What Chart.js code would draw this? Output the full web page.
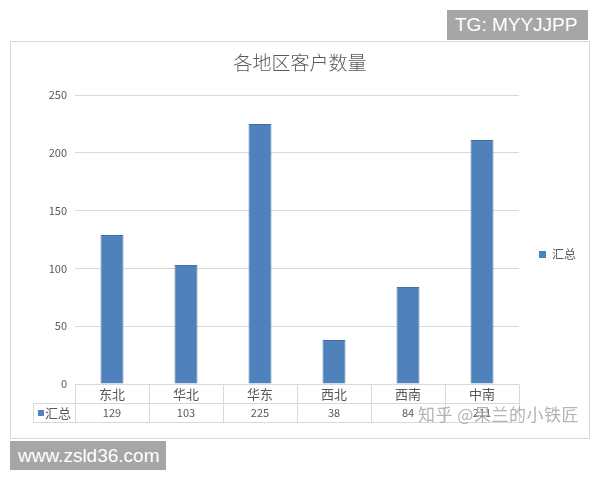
<!DOCTYPE html>
<html>
<head>
<meta charset="utf-8">
<script src="https://cdn.jsdelivr.net/npm/chart.js@4.4.1/dist/chart.umd.min.js"></script>
<style>
  body { margin: 0; width: 600px; height: 480px; background: #fff; position: relative; overflow: hidden; }
  #frame { position: absolute; left: 10px; top: 41px; width: 578px; height: 396px; border: 1px solid #d9d9d9; }
  #chart { position: absolute; left: 0; top: 0; }
  .tag { position: absolute; box-sizing: border-box; white-space: nowrap; background: #a6a6a6; color: #fff; font-family: "Liberation Sans", Arial, sans-serif; font-size: 19px; line-height: 30px; padding: 0 0 0 8px; }
  #tg { left: 447px; top: 10px; width: 141px; height: 30px; }
  #site { left: 10px; top: 441px; width: 156px; height: 29px; line-height: 29px; }
  #zhihu { position: absolute; left: 418px; top: 401px; font-family: "Noto Sans CJK SC", sans-serif; font-size: 17px; color: rgba(160,160,160,0.8); letter-spacing: 0.5px; }
</style>
</head>
<body>
<div id="frame"></div>
<canvas id="chart" width="600" height="480"></canvas>
<div id="zhihu">知乎 @呆兰的小铁匠</div>
<div class="tag" id="tg">TG: MYYJJPP</div>
<div class="tag" id="site">www.zsld36.com</div>
<script>
// chart data
const regions = ['东北', '华北', '华东', '西北', '西南', '中南'];
const totals = [129, 103, 225, 38, 84, 211];
const yTicks = [0, 50, 100, 150, 200, 250];
const seriesName = '汇总';
const chartTitle = '各地区客户数量';

const FONT = '"Noto Sans CJK SC", "Microsoft YaHei", sans-serif';
const BAR = '#4f81bd';
const TEXT = '#595959';
const LINE = '#d9d9d9';

// title, data table under the plot, legend on the right
const dataTable = {
  id: 'dataTable',
  afterDraw(chart) {
    const { ctx, chartArea: area, scales: { x } } = chart;
    const colW = (area.right - area.left) / regions.length;
    const top = Math.round(area.bottom) + 0.5;
    const mid = top + 19;
    const bot = mid + 19;
    const left = 33.5;

    ctx.save();
    // title centred on the whole frame
    ctx.fillStyle = TEXT;
    ctx.textAlign = 'center';
    ctx.textBaseline = 'middle';
    ctx.font = '300 19px ' + FONT;
    ctx.fillText(chartTitle, 300, 63);

    ctx.strokeStyle = LINE;
    ctx.lineWidth = 1;
    ctx.beginPath();
    ctx.moveTo(area.left, top); ctx.lineTo(area.right, top);
    ctx.moveTo(left, mid); ctx.lineTo(area.right, mid);
    ctx.moveTo(left, bot); ctx.lineTo(area.right, bot);
    ctx.moveTo(left, mid); ctx.lineTo(left, bot);
    for (let i = 0; i <= regions.length; i++) {
      const bx = Math.round(x.getPixelForValue(0) - colW / 2 + i * colW) + 0.5;
      ctx.moveTo(bx, top); ctx.lineTo(bx, bot);
    }
    ctx.stroke();

    regions.forEach((r, i) => {
      const cx = x.getPixelForValue(i);
      ctx.font = '13px ' + FONT;
      ctx.fillText(r, cx, (top + mid) / 2);
      ctx.font = '11px ' + FONT;
      ctx.fillText(String(totals[i]), cx, (mid + bot) / 2);
    });

    // series key in the table
    ctx.fillStyle = BAR;
    ctx.fillRect(38, (mid + bot) / 2 - 3, 6, 6);
    ctx.fillStyle = TEXT;
    ctx.textAlign = 'left';
    ctx.font = '13px ' + FONT;
    ctx.fillText(seriesName, 45, (mid + bot) / 2);

    // legend
    ctx.fillStyle = BAR;
    ctx.fillRect(539, 251, 7, 7);
    ctx.fillStyle = TEXT;
    ctx.font = '12px ' + FONT;
    ctx.fillText(seriesName, 552, 254);
    ctx.restore();
  }
};

new Chart(document.getElementById('chart').getContext('2d'), {
  type: 'bar',
  data: {
    labels: regions,
    datasets: [{
      label: seriesName,
      data: totals,
      backgroundColor: BAR,
      borderColor: '#41719c',
      borderWidth: 1,
      barPercentage: 0.31,
      categoryPercentage: 1
    }]
  },
  options: {
    responsive: false,
    animation: false,
    layout: { padding: { left: 35, right: 81, top: 95, bottom: 96 } },
    plugins: {
      legend: { display: false },
      tooltip: { enabled: false },
      title: { display: false }
    },
    scales: {
      x: { display: false },
      y: {
        min: 0,
        max: 250,
        afterFit(scale) { scale.width = 40; },
        afterBuildTicks(scale) { scale.ticks = yTicks.map(v => ({ value: v })); },
        border: { display: false },
        grid: { color: LINE, drawTicks: false },
        ticks: { color: TEXT, padding: 8, font: { size: 11, family: FONT } }
      }
    }
  },
  plugins: [dataTable]
});
</script>
</body>
</html>
